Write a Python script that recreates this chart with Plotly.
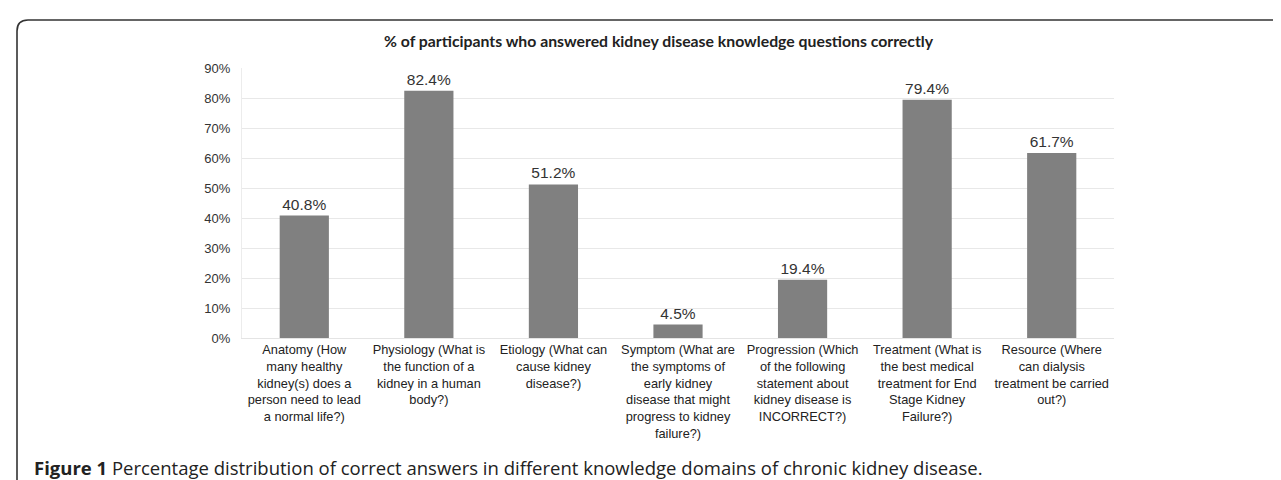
import plotly.graph_objects as go

categories = [
    "Anatomy (How<br>many healthy<br>kidney(s) does a<br>person need to lead<br>a normal life?)",
    "Physiology (What is<br>the function of a<br>kidney in a human<br>body?)",
    "Etiology (What can<br>cause kidney<br>disease?)",
    "Symptom (What are<br>the symptoms of<br>early kidney<br>disease that might<br>progress to kidney<br>failure?)",
    "Progression (Which<br>of the following<br>statement about<br>kidney disease is<br>INCORRECT?)",
    "Treatment (What is<br>the best medical<br>treatment for End<br>Stage Kidney<br>Failure?)",
    "Resource (Where<br>can dialysis<br>treatment be carried<br>out?)",
]
values = [40.8, 82.4, 51.2, 4.5, 19.4, 79.4, 61.7]
value_labels = ["40.8%", "82.4%", "51.2%", "4.5%", "19.4%", "79.4%", "61.7%"]
y_ticks = [0, 10, 20, 30, 40, 50, 60, 70, 80, 90]
y_tick_labels = ["0%", "10%", "20%", "30%", "40%", "50%", "60%", "70%", "80%", "90%"]
chart_title = "% of participants who answered kidney disease knowledge questions correctly"
caption_bold = "Figure 1"
caption_text = " Percentage distribution of correct answers in different knowledge domains of chronic kidney disease."

W, H = 1281, 480
ML, MR, MT, MB = 234, 175, 60, 150
PW = W - ML - MR
PH = H - MT - MB


def px(x):
    return (x - ML) / PW


def py(y):
    return (H - MB - y) / PH


fig = go.Figure()
fig.add_trace(go.Bar(
    x=categories,
    y=values,
    text=value_labels,
    textposition="outside",
    textfont=dict(family="Liberation Sans, Arial, sans-serif", size=15.5, color="#333333"),
    marker=dict(color="#808080", line=dict(width=0)),
    cliponaxis=False,
    hoverinfo="skip",
))

r = 11
x0, y0 = 9, 12
path = (
    f"M {px(x0)},{py(500)} L {px(x0)},{py(y0 + r)} "
    f"Q {px(x0)},{py(y0)} {px(x0 + r)},{py(y0)} L {px(1300)},{py(y0)}"
)

fig.update_layout(
    width=W,
    height=H,
    margin=dict(l=ML, r=MR, t=MT, b=MB, pad=0),
    paper_bgcolor="white",
    plot_bgcolor="white",
    bargap=0.605,
    showlegend=False,
    xaxis=dict(
        tickfont=dict(family="Liberation Sans, Arial, sans-serif", size=12.8, color="#222222"),
        showgrid=False,
        showline=True,
        linecolor="#e4e4e4",
        linewidth=1,
        ticks="",
        tickangle=0,
        fixedrange=True,
    ),
    yaxis=dict(
        range=[0, 90],
        tickvals=y_ticks,
        ticktext=y_tick_labels,
        tickfont=dict(family="Liberation Sans, Arial, sans-serif", size=13, color="#333333"),
        showgrid=True,
        gridcolor="#e8e8e8",
        gridwidth=1,
        showline=True,
        linecolor="#ececec",
        linewidth=1,
        zeroline=False,
        ticks="",
        ticklabelstandoff=8,
        fixedrange=True,
    ),
    shapes=[dict(
        type="path",
        xref="paper",
        yref="paper",
        path=path,
        line=dict(color="#333333", width=1.6),
        layer="above",
    )],
    annotations=[
        dict(
            text=f"<b>{chart_title}</b>",
            x=px(651), y=py(33), xref="paper", yref="paper",
            xanchor="center", yanchor="middle", showarrow=False,
            font=dict(family="Lato, Open Sans, sans-serif", size=15.8, color="#222222"),
        ),
        dict(
            text=f"<b>{caption_bold}</b>{caption_text}",
            x=px(25), y=py(459), xref="paper", yref="paper",
            xanchor="left", yanchor="middle", showarrow=False, borderpad=0,
            font=dict(family="Open Sans, Noto Sans, sans-serif", size=18.5, color="#222222"),
        ),
    ],
)

fig.write_html("out.html")
